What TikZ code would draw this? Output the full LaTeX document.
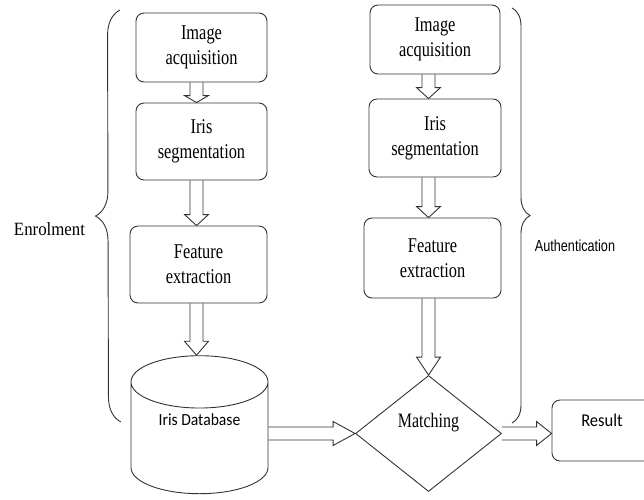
\documentclass[tikz,border=0pt]{standalone}
\usepackage{fontspec}
\usepackage{tikz}
\usetikzlibrary{shapes,arrows,calc,decorations.pathreplacing}
\setmainfont{Liberation Serif}
\newfontfamily\boxfont[FakeStretch=0.78]{Liberation Serif}
\newfontfamily\enrolfont[FakeStretch=0.9]{Liberation Serif}
\newfontfamily\dbfont[FakeStretch=0.92]{Carlito}
\newfontfamily\authfont[FakeStretch=0.79]{Liberation Sans}

% hollow block arrow: #1 start, #2 tip, #3 head length
\newcommand{\blockarrow}[3]{%
  \coordinate (bah) at ($(#2)!#3!(#1)$);
  \draw[blk] ($(#1)!6.5pt!90:(#2)$) -- ($(bah)!6.5pt!-90:(#1)$)
    -- ($(bah)!12pt!-90:(#1)$) -- (#2) -- ($(bah)!12pt!90:(#1)$)
    -- ($(bah)!6.5pt!90:(#1)$) -- ($(#1)!6.5pt!-90:(#2)$);
}

\begin{document}
\begin{tikzpicture}
  [x=1pt,y=-1pt,
    stage/.style={rectangle,rounded corners=8pt,draw=black!80,line width=0.9pt,
      align=center,inner sep=0pt,font=\boxfont\fontsize{21}{25}\selectfont},
    database/.style={cylinder,shape border rotate=90,aspect=0.64,draw=black!80,
      line width=0.9pt,inner sep=0pt,minimum width=137pt,minimum height=138pt,
      text height=12pt,text depth=38pt,font=\dbfont\fontsize{17}{20}\selectfont},
    decision/.style={diamond,draw=black!80,line width=0.9pt,inner sep=0pt,
      minimum width=146pt,minimum height=116pt,text height=14pt,text depth=26.6pt,
      font=\boxfont\fontsize{20.5}{24}\selectfont},
    blk/.style={draw=black!80,line width=0.9pt,line join=miter},
    bracestyle/.style={draw=black!80,line width=0.9pt,decorate}]
  \useasboundingbox (0,0) rectangle (644,499);
  \clip (0,0) rectangle (644,499);

  % enrolment
  \node[stage,minimum width=131pt,minimum height=69pt] (lacq) at (201.5,47.5) {Image\\acquisition};
  \node[stage,minimum width=131pt,minimum height=77pt] (lseg) at (201.5,141.5) {Iris\\segmentation};
  \node[stage,minimum width=137pt,minimum height=77pt] (lfeat) at (198.5,264.5) {Feature\\extraction};
  \node[database] (db) at (199.5,438) {Iris Database};

  % authentication
  \node[stage,minimum width=130pt,minimum height=69pt] (racq) at (435,39.5) {Image\\acquisition};
  \node[stage,minimum width=132pt,minimum height=78pt] (rseg) at (435,138) {Iris\\segmentation};
  \node[stage,minimum width=137pt,minimum height=80pt] (rfeat) at (432.5,258) {Feature\\extraction};
  \node[decision] (match) at (428.5,433.5) {Matching};
  \node[stage,minimum width=100pt,minimum height=61pt,text height=13pt,text depth=20.6pt,
    font=\dbfont\fontsize{18}{20}\selectfont] (res) at (602,430.5) {Result};

  \coordinate (laxis) at (196.5,0);
  \coordinate (raxis) at (428.5,0);
  \blockarrow{laxis |- lacq.south}{laxis |- lseg.north}{7pt}
  \blockarrow{laxis |- lseg.south}{laxis |- lfeat.north}{11pt}
  \blockarrow{laxis |- lfeat.south}{laxis |- db.north}{14pt}
  \blockarrow{raxis |- racq.south}{raxis |- rseg.north}{11pt}
  \blockarrow{raxis |- rseg.south}{raxis |- rfeat.north}{11pt}
  \blockarrow{raxis |- rfeat.south}{match.north}{18pt}
  \blockarrow{db.east |- match.west}{match.west}{22pt}
  \blockarrow{match.east}{res.west |- match.east}{15pt}

  % braces
  \coordinate (lbtop) at (120,10);
  \coordinate (lbbot) at (121,422);
  \coordinate (rbtop) at (512,8);
  \coordinate (rbbot) at (512,423);
  \draw[bracestyle,decoration={brace,amplitude=25pt}] (lbbot) -- (lbtop);
  \draw[bracestyle,decoration={brace,amplitude=18pt}] (rbtop) -- (rbbot);
  \node[anchor=base,font=\enrolfont\fontsize{18.7}{20}\selectfont] (enrol) at (49.5,235.7) {Enrolment};
  \node[anchor=base,font=\authfont\fontsize{16}{18}\selectfont] (auth) at (575,251.7) {Authentication};
\end{tikzpicture}
\end{document}
